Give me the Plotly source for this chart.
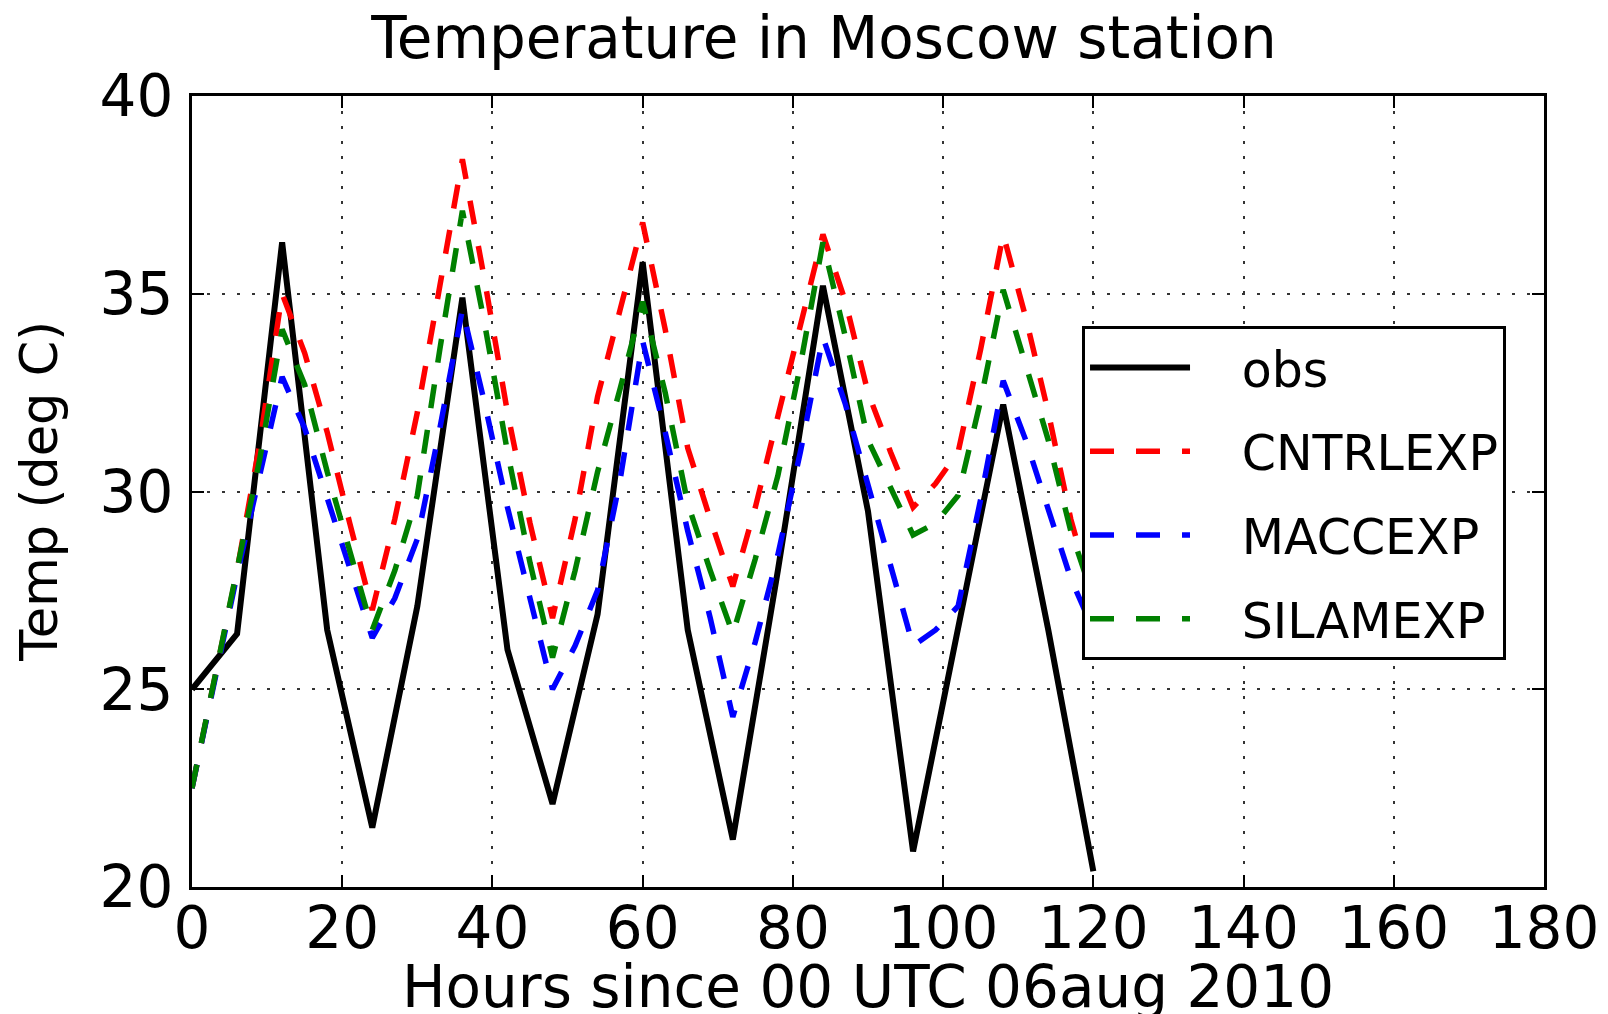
import plotly.graph_objects as go

# ---------------- data ----------------
obs_hours = [0, 6, 12, 18, 24, 30, 36, 42, 48, 54, 60, 66, 72, 78, 84, 90, 96, 102, 108, 114, 120]
obs_temp = [25.0, 26.4, 36.3, 26.5, 21.5, 27.1, 34.9, 26.0, 22.1, 26.9, 35.8, 26.5, 21.2, 28.0,
            35.2, 29.5, 20.9, 26.6, 32.2, 26.5, 20.4]

model_hours = [0, 3, 6, 9, 12, 15, 18, 21, 24, 27, 30, 33, 36, 39, 42, 45, 48, 51, 54, 57, 60,
               63, 66, 69, 72, 75, 78, 81, 84, 87, 90, 93, 96, 99, 102, 105, 108, 111, 114, 117, 120]

cntrlexp = [22.5, 25.3, 28.0, 31.2, 35.0, 33.5, 31.5, 29.2, 27.0, 29.3, 32.0, 35.2, 38.4, 35.3,
            32.0, 29.2, 26.8, 29.3, 32.4, 34.6, 36.8, 34.1, 31.1, 29.3, 27.6, 29.6, 31.9, 34.2,
            36.5, 34.8, 32.5, 31.0, 29.6, 30.2, 31.0, 33.6, 36.5, 34.4, 32.0, 29.3, 27.3]

maccexp = [22.5, 25.2, 27.9, 30.4, 32.9, 31.6, 29.8, 28.0, 26.3, 27.3, 28.8, 31.6, 34.6, 32.2,
           29.6, 27.3, 25.0, 26.1, 27.5, 30.3, 33.8, 31.5, 29.0, 26.8, 24.3, 26.2, 28.4, 31.0,
           33.9, 32.2, 30.2, 28.2, 26.1, 26.5, 27.1, 29.8, 32.8, 31.3, 29.6, 27.8, 26.5]

silamexp = [22.5, 25.3, 28.0, 30.8, 34.1, 32.7, 30.5, 28.5, 26.5, 28.0, 29.9, 33.6, 37.1, 34.2,
            31.0, 28.2, 25.8, 28.0, 30.5, 32.6, 34.8, 32.5, 29.7, 28.0, 26.4, 28.3, 30.4, 33.2,
            36.3, 33.9, 31.3, 30.1, 28.9, 29.2, 29.9, 32.3, 35.1, 33.2, 31.3, 29.0, 27.3]

x_ticks = [0, 20, 40, 60, 80, 100, 120, 140, 160, 180]
y_ticks = [20, 25, 30, 35, 40]

series_names = ["obs", "CNTRLEXP", "MACCEXP", "SILAMEXP"]

title_text = "Temperature in Moscow station"
x_label = "Hours since 00 UTC 06aug 2010"
y_label = "Temp (deg C)"

FONT = "DejaVu Sans"
DASH = "24px,22px"
PAD = "\u00a0\u00a0\u00a0"  # gap between legend line sample and label

fig = go.Figure()
fig.add_trace(go.Scatter(x=obs_hours, y=obs_temp, mode="lines", name=PAD + series_names[0],
                         legendgroup="a",
                         line=dict(color="black", width=6)))
fig.add_trace(go.Scatter(x=model_hours, y=cntrlexp, mode="lines", name=PAD + series_names[1],
                         legendgroup="b",
                         line=dict(color="#ff0000", width=5.5, dash=DASH)))
fig.add_trace(go.Scatter(x=model_hours, y=maccexp, mode="lines", name=PAD + series_names[2],
                         legendgroup="c",
                         line=dict(color="#0000ff", width=5.5, dash=DASH)))
fig.add_trace(go.Scatter(x=model_hours, y=silamexp, mode="lines", name=PAD + series_names[3],
                         legendgroup="d",
                         line=dict(color="#008000", width=5.5, dash=DASH)))

axis_common = dict(
    showline=True, linecolor="black", linewidth=3, mirror="ticks",
    ticks="inside", ticklen=12, tickwidth=2, tickcolor="black",
    showgrid=True, gridcolor="#333333", gridwidth=1.5, griddash="3px,12px",
    zeroline=False, automargin=False,
    tickfont=dict(family=FONT, size=58, color="black"),
)

fig.update_xaxes(range=[0, 180], tickvals=x_ticks, ticktext=[str(v) for v in x_ticks],
                 ticklabelstandoff=-12, **axis_common)
fig.update_yaxes(range=[20, 40], tickvals=y_ticks, ticktext=[str(v) for v in y_ticks],
                 ticklabelstandoff=4, **axis_common)

# the page body adds an 8px offset, so the figure is 8px smaller on each side
fig.update_layout(
    width=1600, height=1006,
    margin=dict(l=184, r=64, t=88, b=127),
    paper_bgcolor="white", plot_bgcolor="white",
    font=dict(family=FONT, color="black"),
    title=dict(text=title_text, x=0.51, xref="container", xanchor="center",
               y=1 - 30 / 1006, yref="container", yanchor="middle",
               font=dict(family=FONT, size=58, color="black")),
    showlegend=True,
    legend=dict(x=0.6583, y=0.709, xanchor="left", yanchor="top",
                bgcolor="white", bordercolor="black", borderwidth=3,
                font=dict(family=FONT, size=49, color="black"),
                itemwidth=100, tracegroupgap=17, traceorder="grouped"),
    annotations=[
        dict(text=x_label, xref="paper", yref="paper", x=0.5, y=-0.127,
             xanchor="center", yanchor="middle", showarrow=False,
             font=dict(family=FONT, size=58, color="black")),
        dict(text=y_label, xref="paper", yref="paper", x=-0.113, y=0.5,
             xanchor="center", yanchor="middle", showarrow=False, textangle=-90,
             font=dict(family=FONT, size=51, color="black")),
    ],
)

fig.write_html("out.html")
